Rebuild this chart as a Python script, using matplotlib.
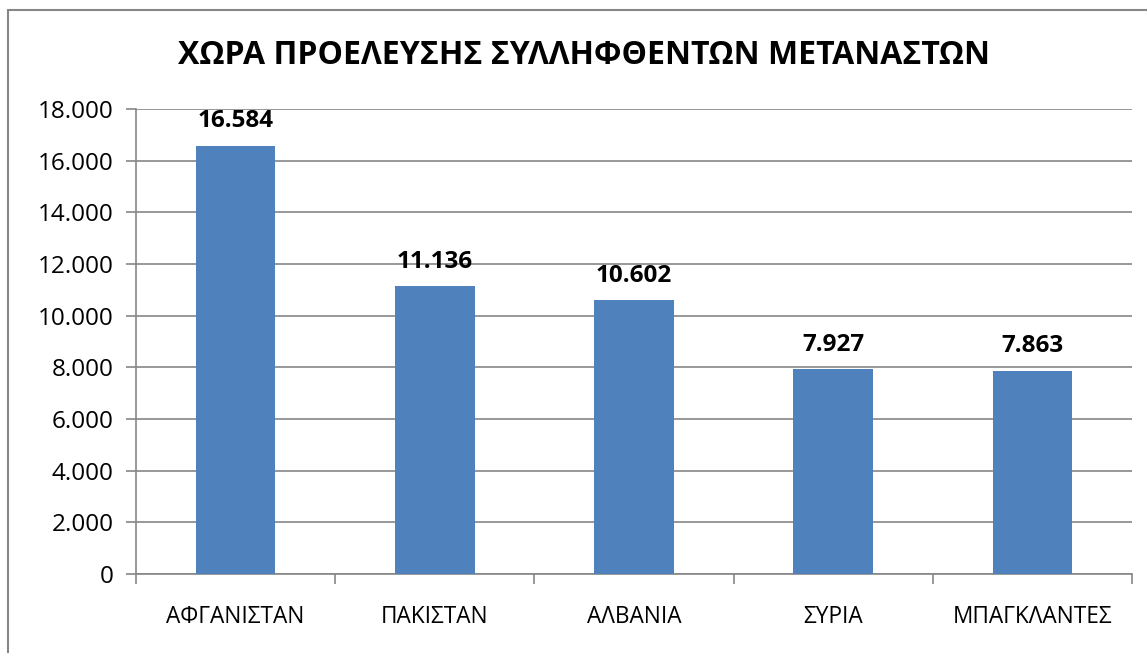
import matplotlib
matplotlib.use("Agg")
import matplotlib.pyplot as plt
from matplotlib.patches import Rectangle
from matplotlib.ticker import FuncFormatter

categories = ["ΑΦΓΑΝΙΣΤΑΝ", "ΠΑΚΙΣΤΑΝ", "ΑΛΒΑΝΙΑ", "ΣΥΡΙΑ", "ΜΠΑΓΚΛΑΝΤΕΣ"]
values = [16584, 11136, 10602, 7927, 7863]
title = "ΧΩΡΑ ΠΡΟΕΛΕΥΣΗΣ ΣΥΛΛΗΦΘΕΝΤΩΝ ΜΕΤΑΝΑΣΤΩΝ"

plt.rcParams['font.family'] = ['Open Sans', 'DejaVu Sans']

W, H = 1147, 653
fig = plt.figure(figsize=(W / 100, H / 100), dpi=100)
fig.patch.set_facecolor("white")

# outer chart frame
fig.patches.append(Rectangle((8 / W, -0.1), 2.0, (H - 10) / H + 0.1,
                             transform=fig.transFigure, fill=False,
                             edgecolor="#868686", linewidth=1.5))

ax = fig.add_axes([136 / W, 1 - 574 / H, (1132 - 136) / W, (574 - 109) / H])
x = list(range(len(categories)))
ax.bar(x, values, width=0.4, color="#4F81BD", zorder=3)
ax.set_xlim(-0.5, len(categories) - 0.5)
ax.set_ylim(0, 18000)
ax.set_yticks(range(0, 18001, 2000))

def fmt(v, pos=None):
    return f"{int(v):,}".replace(",", ".")

ax.yaxis.set_major_formatter(FuncFormatter(fmt))
ax.grid(axis="y", color="#868686", linewidth=1.2, zorder=0)
for s in ["top", "right"]:
    ax.spines[s].set_visible(False)
for s in ["left", "bottom"]:
    ax.spines[s].set_color("#868686")
    ax.spines[s].set_linewidth(1.2)

ax.set_xticks(x)
ax.set_xticklabels(categories, fontsize=16.3)
ax.tick_params(axis="x", length=0, pad=22)
ax.set_xticks([i - 0.5 for i in range(len(categories) + 1)], minor=True)
ax.tick_params(axis="x", which="minor", length=7, color="#868686", width=1.2)
ax.tick_params(axis="y", length=7, color="#868686", width=1.2, labelsize=17.5, pad=9)

for xi, v in zip(x, values):
    ax.annotate(fmt(v), (xi, v), xytext=(0, 9), textcoords="offset points",
                ha="center", va="bottom", fontsize=17.5, fontweight="bold")

fig.text(584 / W, 1 - 55 / H, title, ha="center", va="center",
         fontsize=23, fontweight="bold")

fig.savefig("out.png", dpi=100)
